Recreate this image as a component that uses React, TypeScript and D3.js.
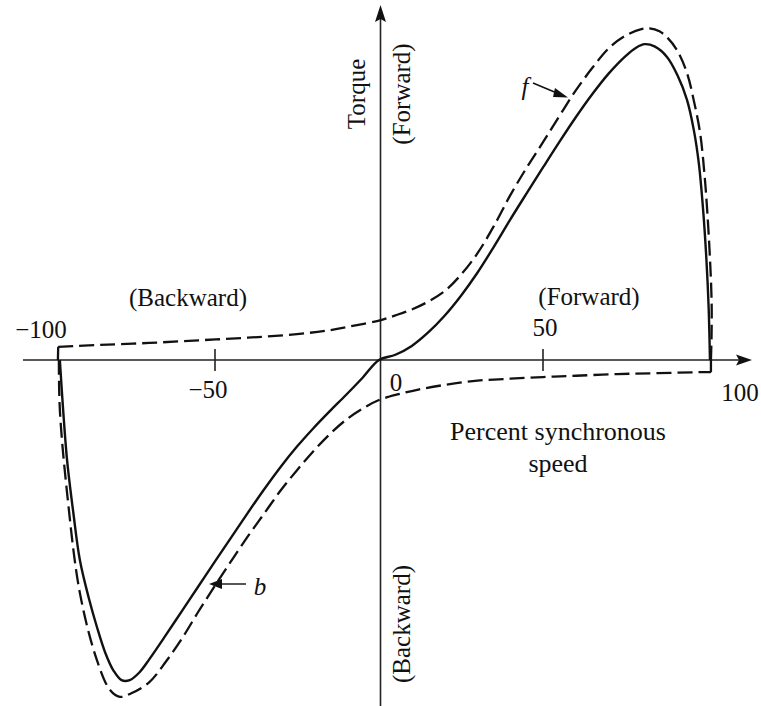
import React from "react";
import * as d3 from "d3";

// Percent synchronous speed vs torque (arbitrary units)
const forwardTorque: [number, number][] = [
  [-97.9, 0], [-97.8, 4.0], [-85, 4.6], [-70, 5.2], [-55, 6.0], [-40, 6.8], [-25, 7.9],
  [-15, 9.1], [-8, 10.4], [0, 12.0], [5, 13.6], [10, 15.4], [15, 17.8], [20, 21.0],
  [25, 26.0], [30, 32.5], [35, 40.8], [40, 50.2], [45, 58.6], [50, 66.4], [55, 74.4],
  [60, 82.2], [65, 89.0], [70, 95.0], [75, 98.8], [80, 100.9], [82.5, 101.1], [85.5, 100.2],
  [88, 98.2], [91, 94.2], [93.9, 87.5], [96, 79], [97.9, 69.2], [99.2, 57], [100.1, 45],
  [100.9, 31], [101.4, 18], [101.4, 8], [101.2, 0],
];

const backwardTorque: [number, number][] = [
  [-97.6, 0], [-97.3, -15.2], [-95.1, -40.5], [-91.2, -71.0], [-86.0, -91.5],
  [-82.0, -100.6], [-79.0, -102.7], [-75.5, -101.6], [-70, -98.2], [-65, -92.0],
  [-60, -84.8], [-55, -76.6], [-50, -68.8], [-45, -61.2], [-40, -53.8], [-35, -46.8],
  [-30, -39.8], [-25, -33.6], [-20, -27.8], [-15, -22.6], [-10, -18.2], [-5, -14.8],
  [0, -12.2], [6, -10.4], [12, -9.0], [20, -7.6], [30, -6.3], [40, -5.7], [50, -5.2],
  [60, -4.8], [72.6, -4.3], [85, -4.0], [98.8, -3.7], [101.2, -3.7], [101.2, 0],
];

const resultantTorque: [number, number][] = [
  [-97.3, 0], [-96.3, -15.2], [-95.1, -30.5], [-93.2, -46.5], [-91.2, -61.0],
  [-88.5, -72.5], [-86.0, -81.4], [-83.4, -89.4], [-81.0, -94.6], [-78.5, -97.6],
  [-76.0, -97.6], [-73.0, -95.2], [-70, -91.2], [-65, -83.9], [-60, -76.4],
  [-55, -68.9], [-50, -61.4], [-45, -54.0], [-40, -46.6], [-35, -39.4], [-30, -32.6],
  [-25, -26.4], [-20, -20.8], [-15, -15.6], [-10, -10.6], [-5, -5.4], [0, 0],
  [5, 1.6], [10, 4.3], [15, 8.4], [20, 13.5], [25, 19.6], [30, 26.6], [35, 34.5],
  [40, 42.8], [45, 50.8], [50, 58.7], [55, 66.5], [60, 74.0], [65, 81.0], [70, 87.3],
  [75, 92.5], [78.5, 95.3], [81, 96.3], [84, 95.6], [87.8, 92.4], [91, 86.8],
  [93.9, 79.3], [96, 70], [97.5, 60], [98.8, 46], [99.8, 31], [100.5, 16], [100.9, 0],
];

const speedTickValues = [-100, -50, 0, 50, 100];
const speedTickLabels = ["\u2212100", "\u221250", "0", "50", "100"];
const speedTickMarks = [-50, 50];

export default function App() {
  const W = 761, H = 706;
  const x = d3.scaleLinear().domain([-100, 100]).range([379 - 328, 379 + 328]);
  const y = d3.scaleLinear().domain([-100, 100]).range([360 + 328, 360 - 328]);
  const x0 = x(0), y0 = y(0);

  const smooth = d3.line<[number, number]>()
    .x(d => x(d[0]))
    .y(d => y(d[1]))
    .curve(d3.curveCatmullRom.alpha(0.5));
  const straight = d3.line<[number, number]>()
    .x(d => x(d[0]))
    .y(d => y(d[1]));

  // forward curve: square corner at its left end; backward curve: square corner at right end
  const fPath = (straight(forwardTorque.slice(0, 2)) || "") + (smooth(forwardTorque.slice(1)) || "");
  const nb = backwardTorque.length;
  const bPath = (smooth(backwardTorque.slice(0, nb - 1)) || "") + (straight(backwardTorque.slice(nb - 2)) || "");

  const font = "'Liberation Serif', 'Times New Roman', serif";
  const fs = 25;

  // label layout (offset from tick position, and vertical position)
  const labelLayout = [
    { dx: -10, yy: 329 },
    { dx: -7, yy: 389 },
    { dx: 17, yy: 382 },
    { dx: 2, yy: 327 },
    { dx: 33, yy: 392 },
  ];

  return (
    <svg width={W} height={H} style={{ position: "absolute", left: 0, top: 0, background: "#fff" }}
      fontFamily={font}>
      <rect width={W} height={H} fill="#fff" />
      {/* axes */}
      <line x1={23} y1={y0} x2={740} y2={y0} stroke="#222" strokeWidth={1.6} />
      <path d={`M752,${y0} L736,${y0 - 5.5} L739,${y0} L736,${y0 + 5.5} Z`} fill="#111" />
      <line x1={x0 + 1.5} y1={18} x2={x0 + 1.5} y2={706} stroke="#222" strokeWidth={1.6} />
      <path d={`M${x0 + 1.5},5 L${x0 - 4},22 L${x0 + 1.5},19 L${x0 + 7},22 Z`} fill="#111" />

      {speedTickMarks.map(v => (
        <line key={v} x1={x(v)} x2={x(v)} y1={y0 - 11} y2={y0 + 11} stroke="#222" strokeWidth={1.6} />
      ))}
      {speedTickValues.map((v, i) => (
        <text key={v} x={x(v) + labelLayout[i].dx} y={labelLayout[i].yy} dy="0.35em"
          textAnchor="middle" fontSize={fs} fill="#111">{speedTickLabels[i]}</text>
      ))}

      {/* curves */}
      <path d={fPath} fill="none" stroke="#111" strokeWidth={2.3} strokeDasharray="15 6" />
      <path d={bPath} fill="none" stroke="#111" strokeWidth={2.3} strokeDasharray="15 6" />
      <path d={smooth(resultantTorque) || ""} fill="none" stroke="#111" strokeWidth={2.4} />

      {/* region labels */}
      <text x={188} y={297} dy="0.35em" textAnchor="middle" fontSize={fs} fill="#111">(Backward)</text>
      <text x={589} y={296} dy="0.35em" textAnchor="middle" fontSize={fs} fill="#111">(Forward)</text>
      <text x={558} y={431} dy="0.35em" textAnchor="middle" fontSize={26} fill="#111">Percent synchronous</text>
      <text x={558} y={463} dy="0.35em" textAnchor="middle" fontSize={26} fill="#111">speed</text>

      <text transform={`translate(356,94) rotate(-90)`} dy="0.35em" textAnchor="middle" fontSize={fs} fill="#111">Torque</text>
      <text transform={`translate(401,94) rotate(-90)`} dy="0.35em" textAnchor="middle" fontSize={fs} fill="#111">(Forward)</text>
      <text transform={`translate(401,624) rotate(-90)`} dy="0.35em" textAnchor="middle" fontSize={fs} fill="#111">(Backward)</text>

      {/* curve annotations */}
      <text x={525} y={86} dy="0.35em" textAnchor="middle" fontSize={fs} fontStyle="italic" fill="#111">f</text>
      <line x1={533} y1={83} x2={558} y2={93.5} stroke="#111" strokeWidth={1.5} />
      <path d="M568,97.5 L555,88 L553,97 Z" fill="#111" />
      <text x={260} y={586} dy="0.35em" textAnchor="middle" fontSize={fs} fontStyle="italic" fill="#111">b</text>
      <line x1={246} y1={584} x2={220} y2={584} stroke="#444" strokeWidth={1.8} />
      <path d="M209,584 L222,579 L222,589 Z" fill="#111" />
    </svg>
  );
}
